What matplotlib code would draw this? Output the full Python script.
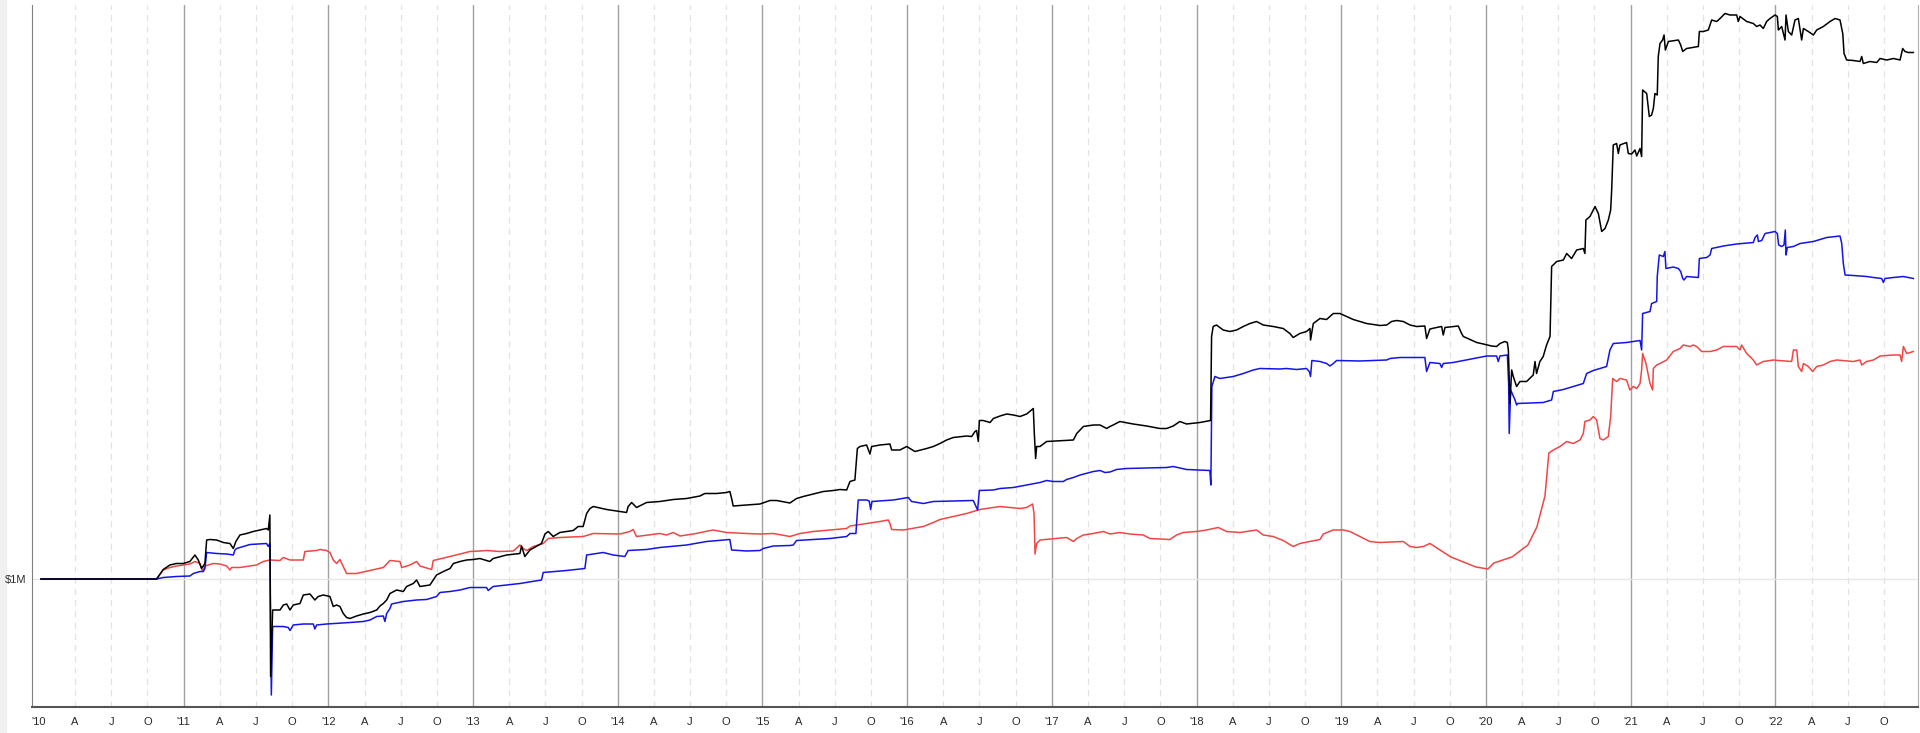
#%%
# equity curves, three strategies, 2010 - 2022

# IMPORTS #######################################

import numpy as np
import matplotlib
matplotlib.use('Agg')
import matplotlib.pyplot as plt

# SETUP #########################################

plt.rcParams.update({
    'font.family': ['Liberation Sans', 'DejaVu Sans'],
    'font.size': 8,
})

# DATA ##########################################
# (decimal year, equity in $K)

black = [
    (2010.014, 1000), (2010.813, 1000), (2010.859, 1019), (2010.905, 1028), (2010.951, 1031), (2010.997, 1031),
    (2011.043, 1035), (2011.078, 1048), (2011.101, 1038), (2011.124, 1021), (2011.147, 1031), (2011.159, 1078),
    (2011.182, 1079), (2011.228, 1078), (2011.274, 1073), (2011.320, 1071), (2011.343, 1061), (2011.361, 1075),
    (2011.389, 1088), (2011.435, 1091), (2011.481, 1095), (2011.527, 1098), (2011.573, 1101), (2011.585, 1098),
    (2011.596, 1128), (2011.601, 805), (2011.615, 938), (2011.666, 938), (2011.689, 948), (2011.712, 950),
    (2011.735, 938), (2011.758, 948), (2011.804, 951), (2011.827, 968), (2011.873, 970), (2011.907, 958),
    (2011.930, 965), (2011.965, 968), (2012.011, 965), (2012.034, 945), (2012.057, 948), (2012.080, 945),
    (2012.103, 931), (2012.126, 923), (2012.149, 921), (2012.195, 926), (2012.242, 930), (2012.288, 933),
    (2012.334, 938), (2012.357, 946), (2012.380, 951), (2012.403, 958), (2012.426, 971), (2012.472, 978),
    (2012.518, 975), (2012.541, 985), (2012.587, 991), (2012.610, 998), (2012.633, 985), (2012.702, 988),
    (2012.725, 998), (2012.748, 1008), (2012.795, 1015), (2012.841, 1021), (2012.864, 1031), (2012.910, 1035),
    (2012.956, 1038), (2013.002, 1039), (2013.047, 1041), (2013.116, 1035), (2013.139, 1041), (2013.232, 1048),
    (2013.324, 1051), (2013.335, 1066), (2013.358, 1045), (2013.393, 1058), (2013.473, 1071), (2013.497, 1090),
    (2013.520, 1095), (2013.554, 1085), (2013.600, 1093), (2013.692, 1097), (2013.727, 1105), (2013.761, 1105),
    (2013.785, 1131), (2013.808, 1141), (2013.831, 1145), (2013.923, 1139), (2014.015, 1135), (2014.061, 1133),
    (2014.072, 1145), (2014.096, 1153), (2014.130, 1143), (2014.199, 1153), (2014.291, 1155), (2014.384, 1159),
    (2014.476, 1161), (2014.568, 1166), (2014.602, 1171), (2014.683, 1171), (2014.752, 1173), (2014.775, 1175),
    (2014.787, 1161), (2014.798, 1146), (2014.890, 1148), (2014.983, 1150), (2015.052, 1157), (2015.098, 1157),
    (2015.190, 1152), (2015.236, 1161), (2015.282, 1165), (2015.351, 1170), (2015.421, 1175), (2015.490, 1177),
    (2015.536, 1179), (2015.582, 1178), (2015.605, 1195), (2015.639, 1198), (2015.656, 1261), (2015.674, 1265),
    (2015.720, 1268), (2015.743, 1250), (2015.755, 1265), (2015.812, 1268), (2015.881, 1270), (2015.893, 1258),
    (2015.950, 1258), (2015.997, 1265), (2016.054, 1255), (2016.135, 1261), (2016.181, 1265), (2016.227, 1271),
    (2016.273, 1278), (2016.319, 1283), (2016.411, 1286), (2016.446, 1285), (2016.469, 1295), (2016.480, 1297),
    (2016.492, 1275), (2016.499, 1317), (2016.526, 1317), (2016.573, 1313), (2016.596, 1321), (2016.642, 1326),
    (2016.688, 1330), (2016.734, 1328), (2016.780, 1325), (2016.826, 1330), (2016.860, 1338), (2016.872, 1341),
    (2016.879, 1291), (2016.888, 1241), (2016.895, 1265), (2016.918, 1265), (2016.964, 1275), (2017.079, 1277),
    (2017.149, 1278), (2017.172, 1291), (2017.218, 1305), (2017.287, 1308), (2017.333, 1308), (2017.379, 1301),
    (2017.402, 1305), (2017.424, 1308), (2017.470, 1315), (2017.562, 1310), (2017.655, 1306), (2017.747, 1301),
    (2017.793, 1301), (2017.839, 1306), (2017.885, 1315), (2017.931, 1310), (2018.023, 1313), (2018.097, 1317),
    (2018.104, 1485), (2018.115, 1505), (2018.138, 1508), (2018.184, 1498), (2018.231, 1495), (2018.277, 1498),
    (2018.323, 1505), (2018.369, 1511), (2018.415, 1515), (2018.461, 1508), (2018.530, 1505), (2018.599, 1501),
    (2018.645, 1491), (2018.668, 1483), (2018.714, 1491), (2018.760, 1495), (2018.784, 1501), (2018.788, 1478),
    (2018.807, 1511), (2018.853, 1521), (2018.899, 1519), (2018.945, 1531), (2018.991, 1531), (2019.083, 1519),
    (2019.175, 1511), (2019.268, 1507), (2019.314, 1508), (2019.348, 1515), (2019.383, 1517), (2019.429, 1515),
    (2019.475, 1508), (2019.521, 1505), (2019.578, 1506), (2019.590, 1481), (2019.613, 1500), (2019.659, 1503),
    (2019.694, 1505), (2019.705, 1488), (2019.717, 1503), (2019.809, 1506), (2019.832, 1491), (2019.844, 1485),
    (2019.890, 1479), (2019.936, 1473), (2019.982, 1470), (2020.039, 1466), (2020.074, 1465), (2020.097, 1471),
    (2020.131, 1475), (2020.148, 1473), (2020.155, 1458), (2020.166, 1351), (2020.178, 1418), (2020.189, 1405),
    (2020.212, 1385), (2020.235, 1395), (2020.281, 1395), (2020.327, 1408), (2020.339, 1435), (2020.350, 1411),
    (2020.373, 1435), (2020.396, 1445), (2020.419, 1468), (2020.443, 1485), (2020.454, 1625), (2020.489, 1635),
    (2020.535, 1638), (2020.558, 1651), (2020.592, 1641), (2020.627, 1658), (2020.673, 1661), (2020.684, 1651),
    (2020.691, 1718), (2020.719, 1725), (2020.754, 1745), (2020.777, 1731), (2020.800, 1695), (2020.823, 1701),
    (2020.846, 1718), (2020.862, 1738), (2020.869, 1778), (2020.880, 1868), (2020.903, 1871), (2020.915, 1851),
    (2020.926, 1868), (2020.972, 1873), (2020.984, 1851), (2021.007, 1850), (2021.030, 1858), (2021.042, 1846),
    (2021.065, 1861), (2021.076, 1845), (2021.083, 1978), (2021.111, 1971), (2021.129, 1925), (2021.145, 1928),
    (2021.157, 1941), (2021.168, 1971), (2021.184, 1968), (2021.191, 2045), (2021.203, 2071), (2021.221, 2078),
    (2021.231, 2088), (2021.240, 2058), (2021.261, 2075), (2021.330, 2078), (2021.346, 2068), (2021.360, 2055),
    (2021.387, 2061), (2021.468, 2065), (2021.475, 2095), (2021.503, 2095), (2021.537, 2098), (2021.560, 2118),
    (2021.595, 2115), (2021.618, 2121), (2021.652, 2131), (2021.687, 2128), (2021.733, 2128), (2021.744, 2115),
    (2021.756, 2125), (2021.802, 2115), (2021.848, 2111), (2021.871, 2105), (2021.894, 2108), (2021.917, 2101),
    (2021.940, 2115), (2021.963, 2121), (2021.998, 2128), (2022.014, 2125), (2022.021, 2098), (2022.044, 2105),
    (2022.067, 2078), (2022.074, 2128), (2022.090, 2095), (2022.113, 2088), (2022.136, 2118), (2022.159, 2121),
    (2022.182, 2078), (2022.194, 2101), (2022.228, 2095), (2022.263, 2088), (2022.286, 2098), (2022.332, 2105),
    (2022.378, 2115), (2022.413, 2121), (2022.447, 2118), (2022.466, 2091), (2022.475, 2051), (2022.493, 2038),
    (2022.539, 2037), (2022.585, 2035), (2022.597, 2045), (2022.608, 2031), (2022.654, 2035), (2022.701, 2033),
    (2022.724, 2041), (2022.770, 2038), (2022.816, 2041), (2022.862, 2038), (2022.880, 2061), (2022.896, 2055),
    (2022.919, 2053), (2022.954, 2053),
]

blue = [
    (2010.014, 1000), (2010.813, 1000), (2010.859, 1003), (2010.951, 1005), (2011.043, 1006), (2011.067, 1011),
    (2011.113, 1015), (2011.136, 1015), (2011.147, 1021), (2011.159, 1053), (2011.228, 1051), (2011.297, 1050),
    (2011.343, 1048), (2011.355, 1058), (2011.366, 1061), (2011.412, 1065), (2011.458, 1069), (2011.573, 1071),
    (2011.585, 1065), (2011.596, 1071), (2011.606, 768), (2011.615, 905), (2011.689, 905), (2011.723, 903),
    (2011.735, 897), (2011.758, 908), (2011.827, 910), (2011.896, 910), (2011.907, 900), (2011.919, 908),
    (2011.988, 910), (2012.149, 913), (2012.242, 915), (2012.288, 918), (2012.334, 925), (2012.380, 926),
    (2012.391, 915), (2012.403, 931), (2012.426, 941), (2012.437, 950), (2012.518, 955), (2012.610, 958),
    (2012.679, 959), (2012.748, 965), (2012.771, 973), (2012.841, 975), (2012.910, 978), (2012.979, 983),
    (2013.047, 983), (2013.093, 983), (2013.105, 977), (2013.139, 985), (2013.324, 991), (2013.473, 998),
    (2013.485, 1013), (2013.646, 1017), (2013.773, 1021), (2013.785, 1048), (2013.900, 1053), (2013.969, 1048),
    (2014.049, 1045), (2014.072, 1057), (2014.199, 1059), (2014.291, 1063), (2014.476, 1068), (2014.614, 1075),
    (2014.775, 1079), (2014.787, 1058), (2014.890, 1056), (2014.983, 1057), (2015.006, 1061), (2015.075, 1066),
    (2015.190, 1067), (2015.213, 1068), (2015.236, 1077), (2015.351, 1079), (2015.467, 1081), (2015.582, 1085),
    (2015.605, 1091), (2015.646, 1091), (2015.662, 1158), (2015.720, 1158), (2015.738, 1156), (2015.748, 1139),
    (2015.757, 1155), (2015.904, 1158), (2016.008, 1163), (2016.031, 1155), (2016.112, 1151), (2016.181, 1155),
    (2016.457, 1157), (2016.487, 1138), (2016.499, 1177), (2016.596, 1178), (2016.642, 1181), (2016.734, 1183),
    (2016.826, 1188), (2016.918, 1193), (2016.964, 1197), (2017.010, 1195), (2017.079, 1195), (2017.102, 1199),
    (2017.149, 1203), (2017.195, 1208), (2017.287, 1215), (2017.333, 1217), (2017.367, 1213), (2017.402, 1214),
    (2017.447, 1219), (2017.516, 1221), (2017.793, 1223), (2017.839, 1225), (2017.931, 1219), (2018.092, 1217),
    (2018.099, 1188), (2018.106, 1385), (2018.127, 1405), (2018.161, 1401), (2018.254, 1405), (2018.323, 1411),
    (2018.392, 1418), (2018.438, 1421), (2018.576, 1420), (2018.622, 1421), (2018.691, 1419), (2018.760, 1421),
    (2018.779, 1415), (2018.788, 1405), (2018.797, 1437), (2018.853, 1435), (2018.899, 1431), (2018.922, 1426),
    (2018.945, 1431), (2018.968, 1437), (2019.129, 1436), (2019.314, 1438), (2019.337, 1441), (2019.406, 1443),
    (2019.578, 1443), (2019.590, 1415), (2019.613, 1433), (2019.682, 1431), (2019.694, 1423), (2019.705, 1431),
    (2019.774, 1433), (2019.844, 1437), (2019.913, 1441), (2020.005, 1446), (2020.074, 1446), (2020.085, 1435),
    (2020.097, 1446), (2020.148, 1448), (2020.157, 1391), (2020.161, 1291), (2020.171, 1378), (2020.201, 1358),
    (2020.212, 1348), (2020.217, 1351), (2020.396, 1353), (2020.454, 1358), (2020.466, 1375), (2020.535, 1379),
    (2020.604, 1385), (2020.673, 1391), (2020.696, 1411), (2020.742, 1417), (2020.834, 1425), (2020.857, 1458),
    (2020.880, 1471), (2020.972, 1473), (2021.065, 1477), (2021.076, 1458), (2021.083, 1531), (2021.134, 1535),
    (2021.145, 1551), (2021.180, 1555), (2021.184, 1605), (2021.198, 1648), (2021.226, 1645), (2021.237, 1655),
    (2021.244, 1621), (2021.295, 1624), (2021.330, 1621), (2021.346, 1615), (2021.360, 1601), (2021.369, 1598),
    (2021.387, 1605), (2021.468, 1603), (2021.475, 1641), (2021.526, 1643), (2021.549, 1648), (2021.560, 1661),
    (2021.641, 1666), (2021.733, 1670), (2021.848, 1673), (2021.860, 1683), (2021.876, 1688), (2021.883, 1675),
    (2021.906, 1677), (2021.929, 1691), (2021.998, 1695), (2022.014, 1691), (2022.023, 1668), (2022.044, 1665),
    (2022.060, 1668), (2022.069, 1698), (2022.074, 1648), (2022.083, 1663), (2022.125, 1665), (2022.171, 1671),
    (2022.263, 1675), (2022.309, 1679), (2022.355, 1683), (2022.447, 1686), (2022.459, 1671), (2022.470, 1631),
    (2022.482, 1608), (2022.539, 1607), (2022.631, 1605), (2022.678, 1603), (2022.735, 1601), (2022.747, 1593),
    (2022.758, 1601), (2022.816, 1603), (2022.885, 1605), (2022.954, 1601),
]

red = [
    (2010.014, 1000), (2010.813, 1000), (2010.859, 1018), (2010.905, 1023), (2010.951, 1026), (2010.997, 1028),
    (2011.043, 1030), (2011.078, 1035), (2011.113, 1031), (2011.131, 1015), (2011.147, 1026), (2011.170, 1028),
    (2011.205, 1031), (2011.251, 1030), (2011.297, 1026), (2011.320, 1018), (2011.331, 1023), (2011.389, 1023),
    (2011.458, 1026), (2011.504, 1028), (2011.550, 1035), (2011.596, 1038), (2011.666, 1037), (2011.689, 1043),
    (2011.735, 1038), (2011.827, 1038), (2011.838, 1055), (2011.919, 1057), (2011.942, 1059), (2011.988, 1057),
    (2012.011, 1053), (2012.034, 1038), (2012.057, 1031), (2012.080, 1039), (2012.103, 1025), (2012.126, 1011),
    (2012.195, 1011), (2012.288, 1017), (2012.380, 1023), (2012.426, 1037), (2012.495, 1035), (2012.507, 1023),
    (2012.564, 1028), (2012.610, 1035), (2012.633, 1026), (2012.714, 1019), (2012.725, 1037), (2012.841, 1045),
    (2012.910, 1050), (2012.979, 1055), (2013.047, 1056), (2013.093, 1057), (2013.185, 1055), (2013.278, 1056),
    (2013.324, 1068), (2013.347, 1061), (2013.370, 1057), (2013.416, 1065), (2013.485, 1071), (2013.520, 1081),
    (2013.600, 1083), (2013.761, 1085), (2013.831, 1091), (2014.015, 1090), (2014.084, 1095), (2014.107, 1099),
    (2014.130, 1085), (2014.291, 1091), (2014.337, 1088), (2014.384, 1093), (2014.430, 1086), (2014.522, 1090),
    (2014.660, 1098), (2014.752, 1093), (2014.890, 1091), (2014.983, 1090), (2015.075, 1091), (2015.190, 1085),
    (2015.259, 1091), (2015.351, 1095), (2015.467, 1098), (2015.582, 1101), (2015.605, 1106), (2015.697, 1110),
    (2015.812, 1115), (2015.870, 1118), (2015.881, 1111), (2015.893, 1099), (2015.973, 1098), (2016.112, 1105),
    (2016.181, 1113), (2016.227, 1119), (2016.319, 1125), (2016.411, 1131), (2016.503, 1139), (2016.642, 1145),
    (2016.780, 1141), (2016.826, 1143), (2016.867, 1150), (2016.877, 1131), (2016.884, 1050), (2016.895, 1071),
    (2016.918, 1078), (2017.033, 1081), (2017.102, 1083), (2017.149, 1075), (2017.172, 1081), (2017.218, 1088),
    (2017.287, 1091), (2017.356, 1095), (2017.402, 1090), (2017.470, 1093), (2017.539, 1090), (2017.632, 1088),
    (2017.678, 1081), (2017.816, 1079), (2017.862, 1088), (2017.908, 1093), (2018.000, 1095), (2018.069, 1098),
    (2018.150, 1103), (2018.208, 1095), (2018.300, 1093), (2018.415, 1098), (2018.461, 1088), (2018.530, 1085),
    (2018.599, 1077), (2018.634, 1071), (2018.668, 1065), (2018.714, 1071), (2018.784, 1075), (2018.853, 1079),
    (2018.876, 1090), (2018.945, 1098), (2019.014, 1098), (2019.060, 1095), (2019.129, 1085), (2019.198, 1075),
    (2019.268, 1073), (2019.429, 1075), (2019.475, 1065), (2019.521, 1063), (2019.567, 1065), (2019.613, 1071),
    (2019.758, 1044), (2019.931, 1024), (2020.014, 1020), (2020.055, 1032), (2020.180, 1044), (2020.290, 1068),
    (2020.352, 1104), (2020.408, 1166), (2020.435, 1252), (2020.466, 1258), (2020.512, 1265), (2020.558, 1275),
    (2020.604, 1271), (2020.650, 1278), (2020.673, 1291), (2020.684, 1315), (2020.719, 1318), (2020.742, 1325),
    (2020.765, 1318), (2020.788, 1281), (2020.811, 1278), (2020.846, 1285), (2020.862, 1325), (2020.876, 1401),
    (2020.903, 1395), (2020.926, 1401), (2020.972, 1398), (2020.995, 1378), (2021.019, 1385), (2021.042, 1381),
    (2021.065, 1391), (2021.076, 1418), (2021.083, 1451), (2021.106, 1431), (2021.134, 1391), (2021.152, 1378),
    (2021.157, 1421), (2021.180, 1428), (2021.203, 1431), (2021.249, 1438), (2021.295, 1455), (2021.341, 1461),
    (2021.364, 1468), (2021.410, 1465), (2021.433, 1468), (2021.456, 1465), (2021.491, 1455), (2021.549, 1455),
    (2021.595, 1458), (2021.641, 1465), (2021.733, 1465), (2021.756, 1458), (2021.767, 1468), (2021.802, 1451),
    (2021.848, 1438), (2021.871, 1428), (2021.917, 1435), (2021.986, 1438), (2022.021, 1437), (2022.113, 1435),
    (2022.125, 1458), (2022.148, 1458), (2022.159, 1425), (2022.182, 1415), (2022.194, 1431), (2022.228, 1425),
    (2022.258, 1415), (2022.286, 1425), (2022.332, 1428), (2022.378, 1435), (2022.424, 1438), (2022.539, 1435),
    (2022.585, 1438), (2022.597, 1428), (2022.631, 1435), (2022.678, 1438), (2022.724, 1446), (2022.816, 1448),
    (2022.862, 1448), (2022.873, 1435), (2022.885, 1465), (2022.908, 1451), (2022.954, 1455),
]

years = list(range(2010, 2023))
quarter_labels = ['A', 'J', 'O']
y_ticks = [1000]
y_tick_labels = ['$1M']

# FIGURE ########################################

fig = plt.figure(figsize=(19.2, 7.33), dpi=100)
fig.patches.append(plt.Rectangle((0, 0), 6 / 1920, 1, transform=fig.transFigure,
                                 color='#f0f0f0', zorder=-1))
ax = fig.add_axes([32 / 1920, 26 / 733, 1886 / 1920, 702 / 733])

ax.set_xlim(2009.952, 2022.986)
ax.set_ylim(744, 2148)

# GRIDS ######################

for yr in years:
    if yr > years[0]:  # the left spine stands in for the first year line
        ax.axvline(yr, color='#a0a0a0', linewidth=1.0, zorder=1)
    for q in (0.25, 0.5, 0.75):
        ax.axvline(yr + q, color='#e2e2e2', linewidth=0.9,
                   linestyle=(0, (5, 4)), zorder=1)
ax.axhline(1000, color='#e6e6e6', linewidth=1.0, zorder=1)

# TICKS AND LABELS ###########

tick_pos, tick_lab = [], []
for yr in years:
    tick_pos.append(yr)
    tick_lab.append("'" + str(yr)[2:])
    for q, lab in zip((0.25, 0.5, 0.75), quarter_labels):
        tick_pos.append(yr + q)
        tick_lab.append(lab)
ax.set_xticks(tick_pos)
ax.set_xticklabels(tick_lab)
ax.set_yticks(y_ticks)
ax.set_yticklabels(y_tick_labels)
ax.tick_params(axis='both', length=0, colors='#2a2a2a', labelsize=8)
ax.tick_params(axis='x', pad=7)
ax.tick_params(axis='y', pad=4)

ax.spines['top'].set_visible(False)
ax.spines['left'].set_color('#808080')
ax.spines['right'].set_color('#b0b0b0')
ax.spines['bottom'].set_color('#555555')
ax.spines['bottom'].set_linewidth(1.5)

# PLOTTING ###################

for series, colour in ((red, '#f04646'), (blue, '#1414e6'), (black, '#000000')):
    t, v = np.array(series).T
    ax.plot(t, v, color=colour, linewidth=1.1, zorder=3)

# EXPORT ########################################

fig.savefig('out.png', dpi=100)
